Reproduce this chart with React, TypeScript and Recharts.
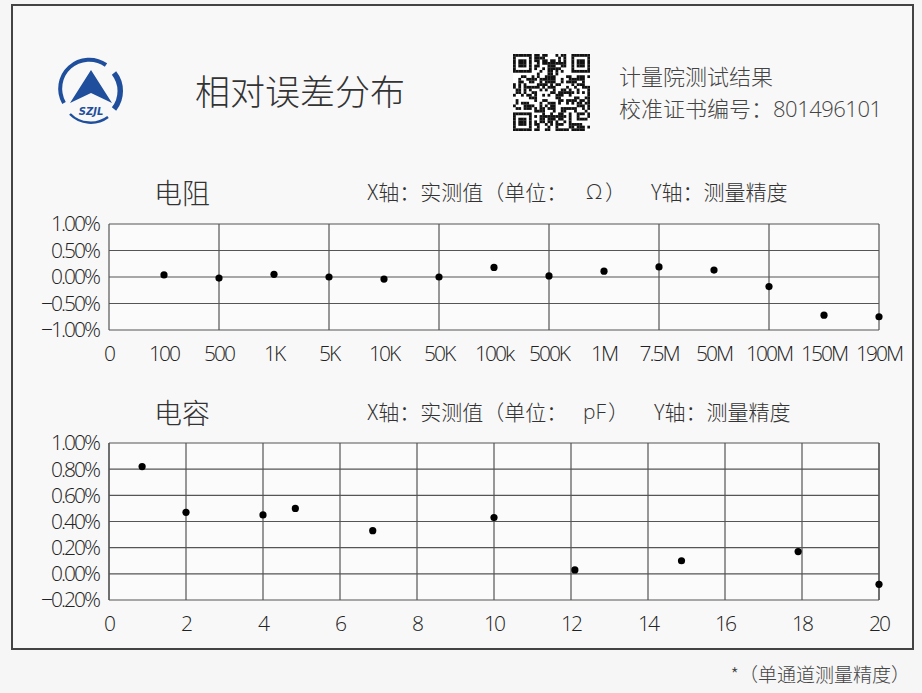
import React from 'react';
import { ScatterChart, Scatter, XAxis, YAxis, CartesianGrid, ReferenceLine } from 'recharts';

// 电阻: x labels by index, errors (%) for index 1..14
const resistanceLabels = ['0', '100', '500', '1K', '5K', '10K', '50K', '100k', '500K', '1M', '7.5M', '50M', '100M', '150M', '190M'];
const resistanceErrors = [0.04, -0.02, 0.05, 0.0, -0.04, 0.0, 0.18, 0.02, 0.11, 0.19, 0.13, -0.18, -0.72, -0.75];
const resistanceYTicks = [-1, -0.5, 0, 0.5, 1];
const resistanceGridX = [0, 2, 4, 6, 8, 10, 12, 14];

// 电容: measured value (pF) and error (%)
const capacitanceValues = [0.86, 2, 4, 4.84, 6.85, 10, 12.1, 14.87, 17.9, 20];
const capacitanceErrors = [0.82, 0.47, 0.45, 0.5, 0.33, 0.43, 0.03, 0.1, 0.17, -0.08];
const capacitanceXTicks = [0, 2, 4, 6, 8, 10, 12, 14, 16, 18, 20];
const capacitanceYTicks = [-0.2, 0, 0.2, 0.4, 0.6, 0.8, 1];

const resistanceData = resistanceErrors.map((y, i) => ({ x: i + 1, y }));
const capacitanceData = capacitanceValues.map((x, i) => ({ x, y: capacitanceErrors[i] }));

const CJK = "'Noto Sans CJK SC', 'Noto Sans', sans-serif";
const NUM = "'Open Sans', 'Noto Sans CJK SC', sans-serif";
const GRID = '#555';

const pct = (v: number) => (v < 0 ? '\u2212' : '') + Math.abs(v).toFixed(2) + '%';

const tickStyle = { fill: '#222', fontSize: 21, fontFamily: NUM, fontWeight: 300, letterSpacing: -2 };

const Dot = (p: any) => <circle cx={p.cx} cy={p.cy} r={3.6} fill="#000" />;

// decorative QR-like block
const QR_N = 29;
const qrCells = (() => {
  const cells: [number, number][] = [];
  const finder = (r: number, c: number, or: number, oc: number) => {
    const rr = r - or, cc = c - oc;
    if (rr < 0 || rr > 6 || cc < 0 || cc > 6) return null;
    if (rr === 0 || rr === 6 || cc === 0 || cc === 6) return true;
    if (rr >= 2 && rr <= 4 && cc >= 2 && cc <= 4) return true;
    return false;
  };
  let seed = 987654321;
  for (let r = 0; r < QR_N; r++) {
    for (let c = 0; c < QR_N; c++) {
      seed = (Math.imul(seed, 1664525) + 1013904223) >>> 0;
      let on: boolean | null = finder(r, c, 0, 0);
      if (on === null) on = finder(r, c, 0, QR_N - 7);
      if (on === null) on = finder(r, c, QR_N - 7, 0);
      if (on === null) {
        const inSep = (r <= 7 && c <= 7) || (r <= 7 && c >= QR_N - 8) || (r >= QR_N - 8 && c <= 7);
        on = inSep ? false : (seed >>> 24) < 128;
      }
      if (on) cells.push([r, c]);
    }
  }
  return cells;
})();

const Logo = () => (
  <svg width={70} height={70} viewBox="0 0 70 70" style={{ position: 'absolute', left: 56, top: 57 }}>
    <path d="M 8 46 A 29 29 0 0 1 50 8" fill="none" stroke="#1f4f9c" strokeWidth={4} />
    <path d="M 58 16 A 29 29 0 0 1 58 52" fill="none" stroke="#1f4f9c" strokeWidth={5.5} />
    <path d="M 14 57 A 29 29 0 0 0 52 60" fill="none" stroke="#1f4f9c" strokeWidth={2.5} />
    <path d="M 35 13 L 56 46 L 35 36 L 14 46 Z" fill="#1f4f9c" />
    <text x={35} y={58} textAnchor="middle" fontSize={10} fontStyle="italic" fontFamily="'DejaVu Sans', sans-serif" fill="#1f4f9c" fontWeight="bold">SZJL</text>
  </svg>
);

const QR = () => {
  const s = 77 / QR_N;
  return (
    <svg width={77} height={77} style={{ position: 'absolute', left: 513, top: 54 }}>
      <rect width={77} height={77} fill="#fff" />
      {qrCells.map(([r, c], i) => (
        <rect key={i} x={c * s} y={r * s} width={s + 0.15} height={s + 0.15} fill="#111" />
      ))}
    </svg>
  );
};

const abs = (left: number, top: number, extra: React.CSSProperties = {}): React.CSSProperties => ({
  position: 'absolute', left, top, whiteSpace: 'nowrap', lineHeight: 1, ...extra,
});

const App: React.FC = () => {
  return (
    <div style={{ position: 'absolute', left: 0, top: 0, width: 922, height: 693, background: '#f6f6f6', fontFamily: CJK, color: '#333', overflow: 'hidden' }}>
      <div style={{ position: 'absolute', left: 11, top: 4, width: 899, height: 642, border: '2px solid #444', background: '#f8f8f8' }} />

      <Logo />
      <div style={abs(195, 72, { fontSize: 35, fontWeight: 300, color: '#333' })}>相对误差分布</div>
      <QR />
      <div style={abs(619, 64, { fontSize: 22, fontWeight: 300, color: '#444' })}>计量院测试结果</div>
      <div style={abs(619, 96, { fontSize: 22, fontWeight: 300, color: '#444' })}>
        校准证书编号：<span style={{ fontFamily: NUM, letterSpacing: -0.5 }}>801496101</span>
      </div>

      {/* 电阻 */}
      <div style={abs(154, 178, { fontSize: 28, fontWeight: 300 })}>电阻</div>
      <div style={abs(367, 181, { fontSize: 21, fontWeight: 300 })}>X轴：实测值（单位：</div>
      <div style={abs(586, 181, { fontSize: 21, fontWeight: 300, fontFamily: NUM })}>Ω</div>
      <div style={abs(605, 181, { fontSize: 21, fontWeight: 300 })}>）</div>
      <div style={abs(651, 181, { fontSize: 21, fontWeight: 300 })}>Y轴：测量精度</div>

      <div style={{ position: 'absolute', left: 0, top: 200 }}>
        <ScatterChart width={922} height={170} margin={{ top: 24, right: 43, bottom: 10, left: 0 }}>
          <CartesianGrid vertical={false} stroke={GRID} strokeWidth={1.2} fill="#fbfbfb" />
          {resistanceGridX.map((v) => (
            <ReferenceLine key={v} x={v} stroke={GRID} strokeWidth={1.2} />
          ))}
          <XAxis
            type="number"
            dataKey="x"
            domain={[0, 14]}
            ticks={resistanceLabels.map((_, i) => i)}
            interval={0}
            tickFormatter={(v: number) => resistanceLabels[v] ?? ''}
            axisLine={false}
            tickLine={false}
            tickMargin={10}
            height={30}
            tick={tickStyle}
          />
          <YAxis
            type="number"
            dataKey="y"
            domain={[-1, 1]}
            ticks={resistanceYTicks}
            interval={0}
            tickFormatter={pct}
            axisLine={false}
            tickLine={false}
            tickMargin={4}
            width={109}
            tick={tickStyle}
          />
          <Scatter data={resistanceData} shape={Dot} isAnimationActive={false} />
        </ScatterChart>
      </div>

      {/* 电容 */}
      <div style={abs(154, 398, { fontSize: 28, fontWeight: 300 })}>电容</div>
      <div style={abs(367, 401, { fontSize: 21, fontWeight: 300 })}>X轴：实测值（单位：</div>
      <div style={abs(583, 401, { fontSize: 21, fontWeight: 300, fontFamily: NUM })}>pF</div>
      <div style={abs(608, 401, { fontSize: 21, fontWeight: 300 })}>）</div>
      <div style={abs(654, 401, { fontSize: 21, fontWeight: 300 })}>Y轴：测量精度</div>

      <div style={{ position: 'absolute', left: 0, top: 420 }}>
        <ScatterChart width={922} height={220} margin={{ top: 23, right: 43, bottom: 10, left: 0 }}>
          <CartesianGrid stroke={GRID} strokeWidth={1.2} fill="#fbfbfb" />
          <ReferenceLine x={0} stroke={GRID} strokeWidth={1.2} />
          <ReferenceLine x={20} stroke={GRID} strokeWidth={1.2} />
          <XAxis
            type="number"
            dataKey="x"
            domain={[0, 20]}
            ticks={capacitanceXTicks}
            interval={0}
            axisLine={false}
            tickLine={false}
            tickMargin={10}
            height={30}
            tick={tickStyle}
          />
          <YAxis
            type="number"
            dataKey="y"
            domain={[-0.2, 1]}
            ticks={capacitanceYTicks}
            interval={0}
            tickFormatter={pct}
            axisLine={false}
            tickLine={false}
            tickMargin={4}
            width={109}
            tick={tickStyle}
          />
          <Scatter data={capacitanceData} shape={Dot} isAnimationActive={false} />
        </ScatterChart>
      </div>

      <div style={abs(0, 664, { width: 910, textAlign: 'right', fontSize: 19, fontWeight: 300, color: '#444' })}>*（单通道测量精度）</div>
    </div>
  );
};

export default App;
